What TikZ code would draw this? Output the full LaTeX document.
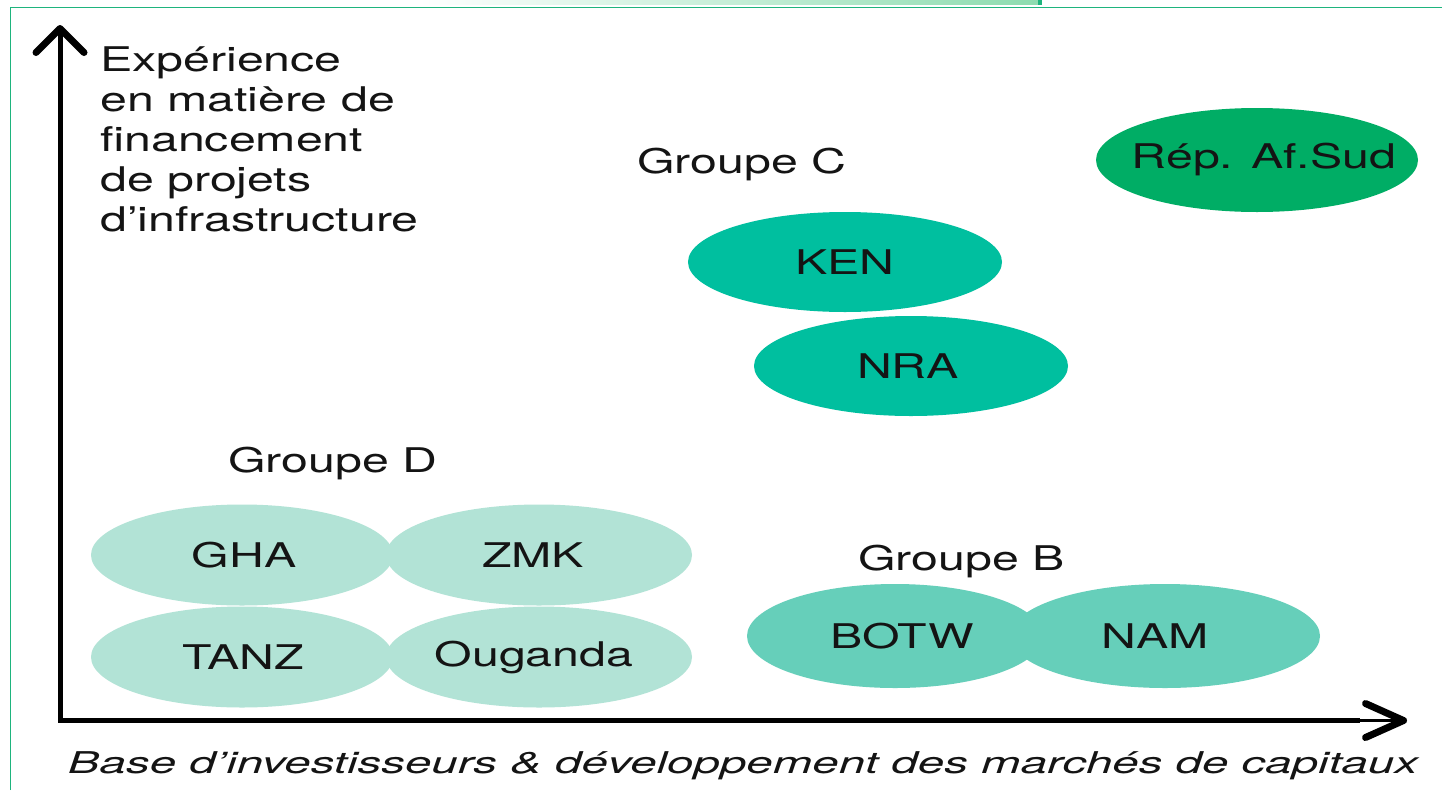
\documentclass[tikz,border=0pt]{standalone}
\usepackage{fontspec}
\setmainfont{TeX Gyre Heros}
\usepackage{graphicx}
\usetikzlibrary{shapes.geometric,arrows.meta}
\definecolor{frameg}{RGB}{30,180,125}
\definecolor{stripg}{RGB}{140,220,175}
\definecolor{dlight}{RGB}{178,227,214}
\definecolor{bmid}{RGB}{102,207,186}
\definecolor{cteal}{RGB}{0,191,159}
\definecolor{sudg}{RGB}{0,173,101}
\definecolor{txt}{RGB}{20,20,20}
\newcommand{\wt}[1]{\scalebox{1.42}[1]{#1}}
\newcommand{\ctext}[2]{\makebox[0pt]{\hspace*{#1}\wt{#2}\hspace*{-#1}}}
\begin{document}
\begin{tikzpicture}[x=1pt,y=-1pt,
  every node/.style={text=txt,font=\fontsize{34}{40}\selectfont},
  blob/.style={ellipse,inner sep=0pt,draw=none},
  grpD/.style={blob,fill=dlight,minimum width=302pt,minimum height=101pt},
  grpB/.style={blob,fill=bmid,minimum height=104pt},
  grpC/.style={blob,fill=cteal,minimum width=314pt,minimum height=100pt},
  grpS/.style={blob,fill=sudg,minimum width=322pt,minimum height=104pt},
  grplabel/.style={anchor=base west,inner sep=0pt},
  axis/.style={line width=5pt,line join=miter},
  ytipstyle/.tip={Straight Barb[length=24pt,width=48pt,line width=7pt,round]},
  xtipstyle/.tip={Straight Barb[length=38pt,width=34pt,line width=7pt,round]}]
\useasboundingbox (0,0) rectangle (1442,790);
\fill[white] (0,0) rectangle (1442,790);
% top strip and frame
\shade[left color=white,right color=stripg] (420,0) rectangle (1040,4.5);
\fill[frameg] (1038,0) rectangle (1042,4.5);
\draw[frameg,line width=1.6pt] (10.5,790) -- (10.5,7.5) -- (1442,7.5);
% ellipses
\node[grpD] (gha) at (242,555) {\ctext{2pt}{GHA}};
\node[grpD,minimum width=306pt] (zmk) at (539,555) {\ctext{-6pt}{ZMK}};
\node[grpD] (tanz) at (242,657) {\ctext{1pt}{TANZ}};
\node[grpD,minimum width=306pt] (oug) at (539,657) {\ctext{-5pt}{Ouganda}};
\node[grpB,minimum width=296pt] (botw) at (895,636) {\ctext{7pt}{BOTW}};
\node[grpB,minimum width=310pt] (nam) at (1165,636) {\ctext{-10pt}{NAM}};
\node[grpC] (ken) at (845,262) {\ctext{0pt}{KEN}};
\node[grpC] (nra) at (911,366) {\ctext{-3pt}{NRA}};
\node[grpS] (sud) at (1257,160) {\ctext{7pt}{Rép. Af.Sud}};
% group labels
\node[grplabel] (gc) at (637,173) {\wt{Groupe C}};
\node[grplabel] (gd) at (228,472) {\wt{Groupe D}};
\node[grplabel] (gb) at (858,570) {\wt{Groupe B}};
% y label
\node[grplabel] (ylab) at (100,71.7) {\wt{\begin{tabular}[t]{@{}l@{}}Expérience\\en matière de\\financement\\de projets\\d’infrastructure\end{tabular}}};
% x label
\node[inner sep=0pt,anchor=base] (xlab) at (743,773) {\fontsize{30}{36}\selectfont\itshape\resizebox{1350pt}{\height}{Base d’investisseurs \& développement des marchés de capitaux}};
% axes
\coordinate (origin) at (60,720.5);
\coordinate (ytip) at (60,25);
\coordinate (xmid) at (1360,720.5);
\coordinate (xtip) at (1407,720.5);
\draw[axis,{ytipstyle}-] (ytip) -- (origin) -- (xmid);
\draw[line width=3pt,-{xtipstyle}] (xmid) -- (xtip);
\end{tikzpicture}
\end{document}
